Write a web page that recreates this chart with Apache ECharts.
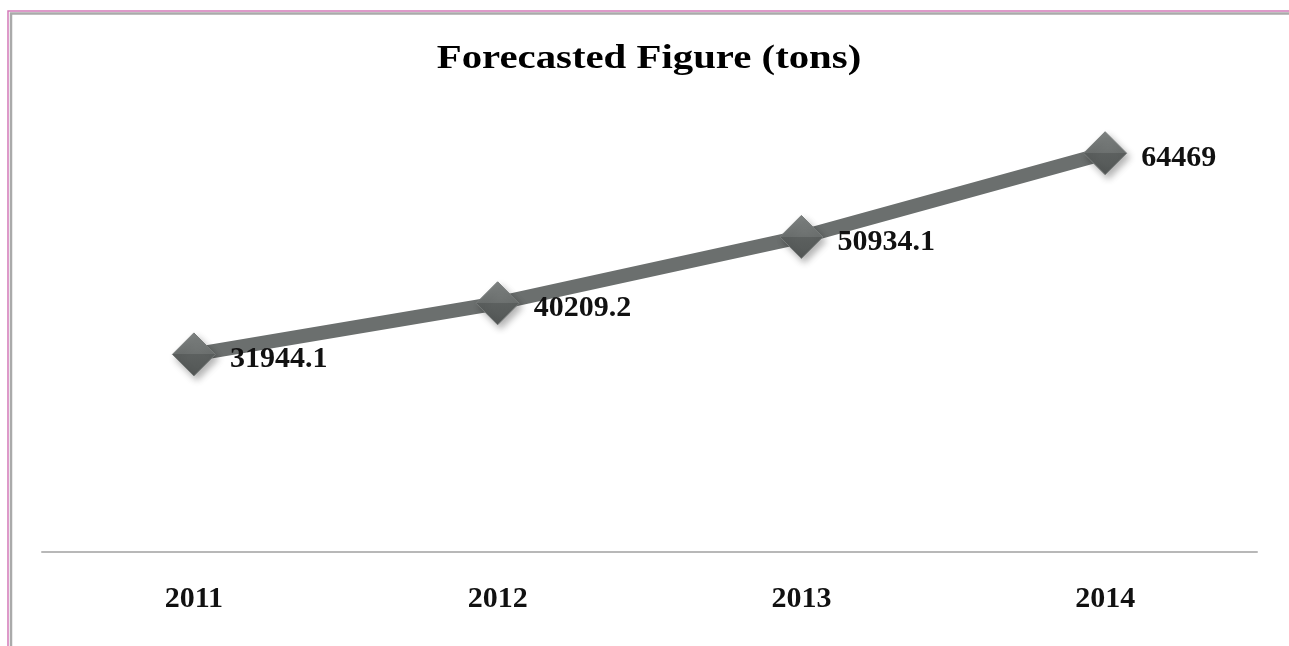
<!DOCTYPE html>
<html>
<head>
<meta charset="utf-8">
<style>
  html, body { margin: 0; padding: 0; background: #ffffff; }
  #chart { width: 1289px; height: 646px; }
</style>
<script src="https://cdn.jsdelivr.net/npm/echarts@6/dist/echarts.min.js"></script>
</head>
<body>
<div id="chart"></div>
<script>
// Forecast by year, in tons
const years = ['2011', '2012', '2013', '2014'];
const forecastTons = [31944.1, 40209.2, 50934.1, 64469];
const chartTitle = 'Forecasted Figure (tons)';

const chart = echarts.init(document.getElementById('chart'), null, { renderer: 'canvas' });

// bevelled diamond: light upper facet, darker lower facet
const diamondFill = new echarts.graphic.LinearGradient(0, 0, 0, 1, [
  { offset: 0, color: '#7f8382' },
  { offset: 0.5, color: '#6c706f' },
  { offset: 0.5, color: '#5c605f' },
  { offset: 1, color: '#535756' }
]);

chart.setOption({
  backgroundColor: '#ffffff',
  animation: false,
  graphic: [
    {
      type: 'rect',
      shape: { x: 8, y: 11, width: 1300, height: 660 },
      style: { fill: 'none', stroke: '#d27ab8', lineWidth: 1.5 },
      silent: true
    },
    {
      type: 'rect',
      shape: { x: 11, y: 13.5, width: 1300, height: 660 },
      style: { fill: 'none', stroke: '#aaaaaa', lineWidth: 2.5 },
      silent: true
    },
    {
      // wide bold serif heading
      type: 'text',
      x: 649,
      y: 59,
      scaleX: 1.2,
      style: {
        text: chartTitle,
        fontFamily: 'Liberation Serif',
        fontWeight: 'bold',
        fontSize: 34,
        fill: '#000000',
        align: 'center',
        verticalAlign: 'middle'
      },
      silent: true
    }
  ],
  grid: { left: 42, right: 32, top: 119, bottom: 94 },
  xAxis: {
    type: 'category',
    data: years,
    boundaryGap: true,
    axisLine: { show: true, lineStyle: { color: '#b8b8b8', width: 2 } },
    axisTick: { show: false },
    axisLabel: {
      margin: 32,
      fontFamily: 'Liberation Serif',
      fontWeight: 'bold',
      fontSize: 30,
      color: '#111111'
    },
    splitLine: { show: false }
  },
  yAxis: {
    type: 'value',
    min: 0,
    max: 70000,
    show: false,
    splitLine: { show: false }
  },
  series: [{
    type: 'line',
    data: forecastTons,
    symbol: 'diamond',
    symbolSize: 43,
    lineStyle: { color: '#6b6f6e', width: 14 },
    itemStyle: {
      color: diamondFill,
      borderColor: '#777b7a',
      borderWidth: 1,
      shadowColor: 'rgba(0,0,0,0.3)',
      shadowBlur: 7,
      shadowOffsetX: 3,
      shadowOffsetY: 4
    },
    label: {
      show: true,
      position: 'right',
      distance: 14,
      offset: [0, 5],
      fontFamily: 'Liberation Serif',
      fontWeight: 'bold',
      fontSize: 30,
      color: '#111111',
      formatter: p => String(p.value)
    },
    z: 3
  }]
});
</script>
</body>
</html>
